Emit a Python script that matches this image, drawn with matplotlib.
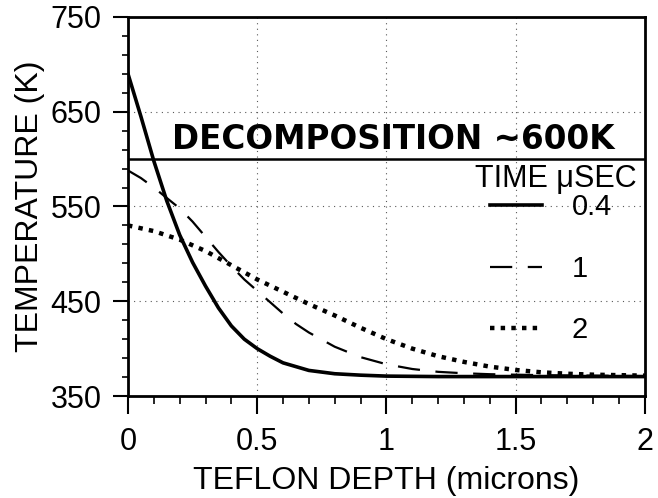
import matplotlib
matplotlib.use("Agg")
import matplotlib.pyplot as plt
from matplotlib.ticker import FixedLocator, MultipleLocator
from matplotlib.lines import Line2D

plt.rcParams['font.family'] = ['Liberation Sans', 'DejaVu Sans']

# Temperature profiles in Teflon at three times (microseconds)
depth_04 = [0, 0.05, 0.1, 0.15, 0.2, 0.25, 0.3, 0.35, 0.4, 0.45, 0.5, 0.55,
            0.6, 0.7, 0.8, 0.9, 1.0, 1.2, 1.5, 2.0]
temp_04 = [690, 645, 598, 556, 520, 491, 466, 443, 424, 410, 400, 392,
           385, 377, 373.5, 372, 371, 370.5, 370.5, 370.5]

depth_1 = [0, 0.05, 0.1, 0.15, 0.2, 0.25, 0.3, 0.35, 0.4, 0.45, 0.5, 0.55,
           0.6, 0.65, 0.7, 0.8, 0.9, 1.0, 1.1, 1.2, 1.3, 1.4, 1.6, 1.8, 2.0]
temp_1 = [588, 580, 570, 559, 548, 534, 518, 502, 487, 473, 461, 449,
          437, 426, 417, 402, 391, 383.5, 378.5, 375.5, 374, 373, 372, 371.5, 371]

depth_2 = [0, 0.1, 0.2, 0.3, 0.4, 0.5, 0.6, 0.7, 0.8, 0.9, 1.0, 1.1, 1.2,
           1.3, 1.4, 1.5, 1.6, 1.7, 1.8, 1.9, 2.0]
temp_2 = [530, 524, 515, 503, 488, 473, 460, 447, 435, 422, 410, 400, 392,
          386, 381, 377.5, 375, 373.5, 372.5, 372, 371.5]

time_labels = ["0.4", "1", "2"]
x_ticks = [0, 0.5, 1, 1.5, 2]
x_tick_labels = ["0", "0.5", "1", "1.5", "2"]
y_ticks = [350, 450, 550, 650, 750]
decomp_temp = 600

fig = plt.figure(figsize=(6.58, 4.98), dpi=100)
ax = fig.add_axes([0.1945, 0.2048, 0.7855, 0.7612])

ax.set_xlim(0, 2)
ax.set_ylim(350, 750)

# dotted grid at the interior major positions
for xv in x_ticks[1:-1]:
    ax.axvline(xv, color='0.35', lw=0.8, ls=(0, (1, 4)), zorder=1)
for yv in y_ticks[1:-1]:
    ax.axhline(yv, color='0.35', lw=0.8, ls=(0, (1, 4)), zorder=1)

# decomposition threshold
ax.axhline(decomp_temp, color='black', lw=1.8, zorder=2)
ax.text(0.17, 603, "DECOMPOSITION ~600K", fontsize=23.5, fontweight='bold',
        family='DejaVu Sans', ha='left', va='bottom')

styles = [dict(ls='-', lw=2.6),
          dict(ls=(0, (10, 7)), lw=1.6),
          dict(ls=(0, (1, 1.4)), lw=3.2)]

ax.plot(depth_04, temp_04, color='black', **styles[0])
ax.plot(depth_1, temp_1, color='black', **styles[1])
ax.plot(depth_2, temp_2, color='black', **styles[2])

# legend
ax.text(0.985, 0.572, "TIME \u03bcSEC", transform=ax.transAxes, fontsize=22,
        ha='right', va='center')
handles = [Line2D([], [], color='black', **s) for s in styles]
ax.legend(handles, time_labels, loc='upper left', bbox_to_anchor=(0.70, 0.535),
          frameon=False, fontsize=21, handlelength=1.8, handletextpad=1.0,
          labelspacing=1.15, borderpad=0, borderaxespad=0)

ax.xaxis.set_major_locator(FixedLocator(x_ticks))
ax.set_xticklabels(x_tick_labels)
ax.xaxis.set_minor_locator(MultipleLocator(0.1))
ax.yaxis.set_major_locator(FixedLocator(y_ticks))
ax.yaxis.set_minor_locator(FixedLocator(list(range(350, 751, 20))))

ax.tick_params(which='major', direction='out', width=1.5, labelsize=22)
ax.tick_params(axis='x', which='major', length=13, pad=9)
ax.tick_params(axis='y', which='major', length=11, pad=8)
ax.tick_params(axis='x', which='minor', direction='out', length=6, width=1.2)
ax.tick_params(axis='y', which='minor', direction='out', length=4.5, width=1.2)

for sp in ax.spines.values():
    sp.set_linewidth(2)

ax.set_xlabel("TEFLON DEPTH (microns)", fontsize=23, labelpad=7)
ax.set_ylabel("TEMPERATURE (K)", fontsize=23, labelpad=4)

fig.savefig("out.png", dpi=100)
